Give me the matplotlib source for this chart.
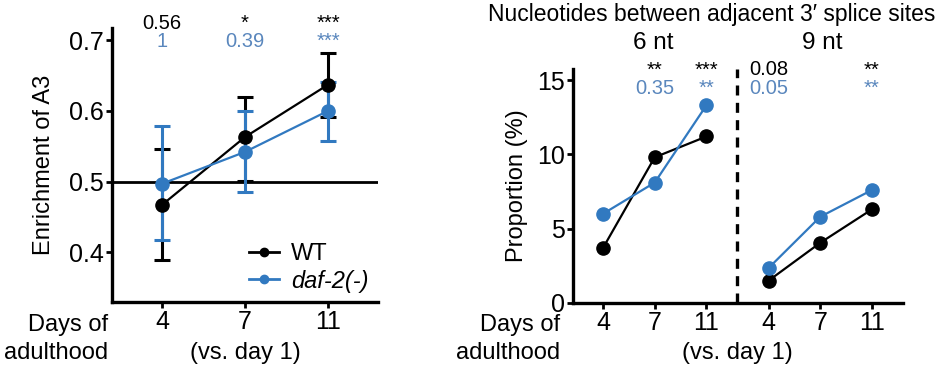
import matplotlib as mpl
mpl.use("Agg")
import matplotlib.pyplot as plt
from matplotlib.lines import Line2D

fsize = 17
mpl.rcParams['font.family'] = ['Liberation Sans', 'DejaVu Sans']
mpl.rcParams['font.size'] = fsize

black = "#000000"
blue = "#3179c0"
blue_txt = "#5a87bd"
afs = 14.5  # annotation font size

days = ["4", "7", "11"]

# left panel: enrichment of A3
wt_a3 = [0.467, 0.563, 0.637]
wt_a3_lo = [0.390, 0.501, 0.592]
wt_a3_hi = [0.546, 0.619, 0.681]
daf_a3 = [0.497, 0.542, 0.600]
daf_a3_lo = [0.418, 0.485, 0.558]
daf_a3_hi = [0.578, 0.600, 0.641]
wt_a3_sig = ["0.56", "*", "***"]
daf_a3_sig = ["1", "0.39", "***"]

# right panel: proportion (%)
wt_6nt = [3.7, 9.8, 11.2]
daf_6nt = [6.0, 8.1, 13.3]
wt_9nt = [1.5, 4.05, 6.3]
daf_9nt = [2.35, 5.8, 7.6]
wt_6_sig = ["", "**", "***"]
daf_6_sig = ["", "0.35", "**"]
wt_9_sig = ["0.08", "", "**"]
daf_9_sig = ["0.05", "", "**"]

fig = plt.figure(figsize=(9.46, 3.69), dpi=100)

def style(ax):
	for s in ["top", "right"]:
		ax.spines[s].set_visible(False)
	for s in ["left", "bottom"]:
		ax.spines[s].set_linewidth(2.4)
	ax.tick_params(width=2.0, length=4, labelsize=18, pad=2)

# ---- left
ax1 = fig.add_axes([112/946, 67/369, 266/946, 274/369])
style(ax1)
x1 = [1, 2, 3]
ax1.axhline(0.5, color=black, lw=2.0, zorder=1)
for vals, lo, hi, c in [(wt_a3, wt_a3_lo, wt_a3_hi, black), (daf_a3, daf_a3_lo, daf_a3_hi, blue)]:
	err = [[v - l for v, l in zip(vals, lo)], [h - v for v, h in zip(vals, hi)]]
	ax1.errorbar(x1, vals, yerr=err, color=c, lw=1.6, marker="o", ms=9.5,
		elinewidth=2.2, capsize=6, capthick=2.2, zorder=3)
ax1.set_xlim(0.4, 3.6)
ax1.set_ylim(0.33, 0.717)
ax1.set_yticks([0.4, 0.5, 0.6, 0.7])
ax1.set_xticks(x1)
ax1.set_xticklabels(days)
ax1.set_ylabel("Enrichment of A3", labelpad=10)
for i in range(3):
	ax1.text(x1[i], 0.7235, wt_a3_sig[i], color=black, ha="center", va="center", fontsize=afs, clip_on=False)
	ax1.text(x1[i], 0.698, daf_a3_sig[i], color=blue_txt, ha="center", va="center", fontsize=afs, clip_on=False)
handles = [Line2D([], [], color=black, marker="o", ms=6, lw=2),
	Line2D([], [], color=blue, marker="o", ms=6, lw=2)]
ax1.legend(handles, ["WT", "daf-2(-)"], loc="lower right", frameon=False, handlelength=1.3,
	handletextpad=0.5, borderaxespad=0.0, labelspacing=0.2, bbox_to_anchor=(1.0, 0.0))
leg = ax1.get_legend()
leg.get_texts()[1].set_style("italic")

# ---- right
ax2 = fig.add_axes([573/946, 66/369, 330/946, 234/369])
style(ax2)
xa = [1, 2, 3]
xb = [4.2, 5.2, 6.2]
ax2.plot(xa, wt_6nt, color=black, lw=1.6, marker="o", ms=9.5, zorder=3)
ax2.plot(xa, daf_6nt, color=blue, lw=1.6, marker="o", ms=9.5, zorder=3)
ax2.plot(xb, wt_9nt, color=black, lw=1.6, marker="o", ms=9.5, zorder=3)
ax2.plot(xb, daf_9nt, color=blue, lw=1.6, marker="o", ms=9.5, zorder=3)
ax2.axvline(3.6, color=black, lw=2.4, ls=(0, (3, 2.2)))
ax2.set_xlim(0.42, 6.8)
ax2.set_ylim(0, 15.74)
ax2.set_yticks([0, 5, 10, 15])
ax2.set_xticks(xa + xb)
ax2.set_xticklabels(days + days)
ax2.set_ylabel("Proportion (%)", labelpad=6)
for xs, ws, ds in [(xa, wt_6_sig, daf_6_sig), (xb, wt_9_sig, daf_9_sig)]:
	for i in range(3):
		ax2.text(xs[i], 15.68, ws[i], color=black, ha="center", va="center", fontsize=afs, clip_on=False)
		ax2.text(xs[i], 14.46, ds[i], color=blue_txt, ha="center", va="center", fontsize=afs, clip_on=False)

# ---- text outside axes
fig.text(712/946, 1 - 15/369, "Nucleotides between adjacent 3\u2032 splice sites", ha="center", va="center", fontsize=16.5)
fig.text(653/946, 1 - 43/369, "6 nt", ha="center", va="center", fontsize=17.5)
fig.text(822/946, 1 - 43/369, "9 nt", ha="center", va="center", fontsize=17.5)
for xr, xc in [(108, 245), (560, 737)]:
	fig.text(xr/946, 1 - 325/369, "Days of", ha="right", va="center", fontsize=fsize)
	fig.text(xr/946, 1 - 353/369, "adulthood", ha="right", va="center", fontsize=fsize)
	fig.text(xc/946, 1 - 353/369, "(vs. day 1)", ha="center", va="center", fontsize=fsize)

fig.savefig("out.png", dpi=100)
